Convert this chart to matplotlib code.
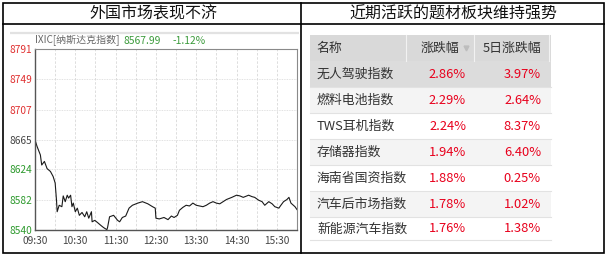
import matplotlib
matplotlib.use("Agg")
import matplotlib.pyplot as plt
from matplotlib.patches import Rectangle
import numpy as np

plt.rcParams['font.family'] = ['Noto Sans CJK SC', 'DejaVu Sans']

# ---- data ----
left_title = "外国市场表现不济"
right_title = "近期活跃的题材板块维持强势"

index_name = "IXIC[纳斯达克指数]"
last_price = "8567.99"
last_change = "-1.12%"
prev_close = 8665

# minutes after 09:30 and index level
minutes = [0, 3, 8, 10, 14, 18, 23, 27, 30, 32, 33, 36, 40, 42, 45, 48, 50, 53, 55, 57,
           60, 63, 66, 70, 74, 77, 80, 84, 85, 89, 93, 98, 102, 107, 108, 111, 117, 123,
           126, 130, 135, 140, 145, 153, 160, 168, 175, 179, 180, 185, 192, 198, 203, 207,
           212, 215, 220, 225, 230, 235, 240, 245, 250, 255, 260, 265, 270, 275, 280, 285,
           293, 300, 305, 310, 318, 323, 327, 333, 338, 342, 348, 353, 357, 363, 366, 370,
           375, 378, 381, 387, 390]
levels = [8665, 8656, 8644, 8630, 8635, 8625, 8621, 8614, 8605, 8581, 8565, 8574, 8572,
          8587, 8579, 8588, 8584, 8588, 8572, 8577, 8565, 8570, 8560, 8564, 8558, 8565,
          8556, 8565, 8551, 8553, 8550, 8546, 8543, 8540, 8543, 8558, 8560, 8553, 8551,
          8557, 8559, 8570, 8574, 8577, 8579, 8576, 8572, 8570, 8556, 8555, 8557, 8554,
          8559, 8557, 8560, 8567, 8571, 8574, 8573, 8577, 8574, 8573, 8572, 8574, 8577,
          8579, 8577, 8576, 8579, 8582, 8585, 8588, 8587, 8585, 8588, 8586, 8585, 8581,
          8579, 8574, 8579, 8576, 8572, 8570, 8574, 8579, 8582, 8585, 8577, 8572, 8568]

y_ticks = [8540, 8582, 8624, 8665, 8707, 8749, 8791]
x_tick_labels = ["09:30", "10:30", "11:30", "12:30", "13:30", "14:30", "15:30"]

sector_names = ["无人驾驶指数", "燃料电池指数", "TWS耳机指数", "存储器指数",
                "海南省国资指数", "汽车后市场指数", "新能源汽车指数"]
change_1d = ["2.86%", "2.29%", "2.24%", "1.94%", "1.88%", "1.78%", "1.76%"]
change_5d = ["3.97%", "2.64%", "8.37%", "6.40%", "0.25%", "1.02%", "1.38%"]
col_headers = ["名称", "涨跌幅", "5日涨跌幅"]

# ---- figure ----
W, H = 608, 257
fig = plt.figure(figsize=(W / 100, H / 100), dpi=100)
fig.patch.set_facecolor("white")

# overlay in pixel coordinates
ov = fig.add_axes([0, 0, 1, 1], zorder=0)
ov.set_xlim(0, W)
ov.set_ylim(H, 0)
ov.axis("off")

# outer frame and cell dividers
lw_frame = 1.2
ov.add_patch(Rectangle((3, 3), 601, 250, fill=False, ec="black", lw=lw_frame))
ov.plot([3, 604], [24, 24], color="black", lw=lw_frame)
ov.plot([301, 301], [3, 253], color="black", lw=lw_frame)

ov.text(153, 14, left_title, ha="center", va="center", fontsize=11.5,
        color="#111111", fontweight="light")
ov.text(453, 14, right_title, ha="center", va="center", fontsize=11.5,
        color="#111111", fontweight="light")

# left panel decorations
ov.plot([10, 299], [33, 33], color="#e2e2e2", lw=1.6, solid_capstyle="butt")
ov.text(35, 41, index_name, ha="left", va="center", fontsize=7.2, color="#666666")
ov.text(124, 41, last_price, ha="left", va="center", fontsize=7.4, color="#3a9a3a")
ov.text(173, 41, last_change, ha="left", va="center", fontsize=7.4, color="#3a9a3a")

# ---- intraday line chart ----
ax_l, ax_r, ax_t, ax_b = 35, 297, 49.3, 229.7
ax = fig.add_axes([ax_l / W, (H - ax_b) / H, (ax_r - ax_l) / W, (ax_b - ax_t) / H], zorder=2)
ax.set_facecolor("white")
ax.plot(minutes, levels, color="#1a1a1a", lw=0.8)
ax.set_xlim(0, 390)
ax.set_ylim(y_ticks[0], y_ticks[-1])

ax.set_yticks(y_ticks)
ax.set_yticklabels([str(v) for v in y_ticks])
for lbl, v in zip(ax.get_yticklabels(), y_ticks):
    if v > prev_close:
        lbl.set_color("#e03030")
    elif v < prev_close:
        lbl.set_color("#2e9a2e")
    else:
        lbl.set_color("#444444")
ax.set_xticks(np.arange(len(x_tick_labels)) * 60)
ax.set_xticklabels(x_tick_labels, color="#444444")
ax.tick_params(axis="both", length=0, labelsize=7.3)
ax.tick_params(axis="y", pad=2)
ax.tick_params(axis="x", pad=4.5)

for xv in np.arange(30, 390, 30):
    ax.axvline(xv, color="#d8d8d8", lw=0.6, ls=(0, (3, 2)), zorder=0)
for yv in y_ticks[1:-1]:
    ax.axhline(yv, color="#d8d8d8", lw=0.6, ls=(0, (1, 1)), zorder=0)

for side in ["top", "right"]:
    ax.spines[side].set_color("#8a8a8a")
    ax.spines[side].set_linewidth(0.8)
for side in ["left", "bottom"]:
    ax.spines[side].set_color("#555555")
    ax.spines[side].set_linewidth(1.0)

# ---- sector table ----
tx0, tx1 = 310, 551
col_edges = [310, 405.7, 474, 549]
header_top, header_bot = 35, 61
row_edges = [61, 87, 113, 139, 165, 191, 217, 240]
row_fill = ["#dcdcdc", "#f4f4f4", "#ffffff", "#f4f4f4", "#ffffff", "#f4f4f4", "#ffffff"]

ov.add_patch(Rectangle((tx0, header_top), tx1 - tx0, header_bot - header_top,
                       fc="#d9d9d9", ec="none"))
for xe in col_edges[1:]:
    ov.plot([xe, xe], [header_top, header_bot], color="#f2f2f2", lw=0.8)

fs_tab = 9.3
ov.text(316, 48.5, col_headers[0], ha="left", va="center", fontsize=fs_tab, color="#333333")
ov.text(459, 48.5, col_headers[1], ha="right", va="center", fontsize=fs_tab, color="#333333")
ov.plot([466], [48], marker="v", ms=3.5, color="#bdbdbd", ls="none")
ov.text(541, 48.5, col_headers[2], ha="right", va="center", fontsize=fs_tab, color="#333333")

for i, (name, c1, c5) in enumerate(zip(sector_names, change_1d, change_5d)):
    y0, y1 = row_edges[i], row_edges[i + 1]
    ov.add_patch(Rectangle((tx0, y0), tx1 - tx0, y1 - y0, fc=row_fill[i], ec="none"))
    ov.plot([tx0, tx1], [y1, y1], color="#e2e2e2", lw=0.8)
    yc = (y0 + y1) / 2 + 0.5
    ov.text(317, yc, name, ha="left", va="center", fontsize=fs_tab, color="#333333")
    ov.text(466, yc, c1, ha="right", va="center", fontsize=fs_tab, color="#e8001c")
    ov.text(541, yc, c5, ha="right", va="center", fontsize=fs_tab, color="#e8001c")

fig.savefig("out.png", dpi=100, facecolor="white")
